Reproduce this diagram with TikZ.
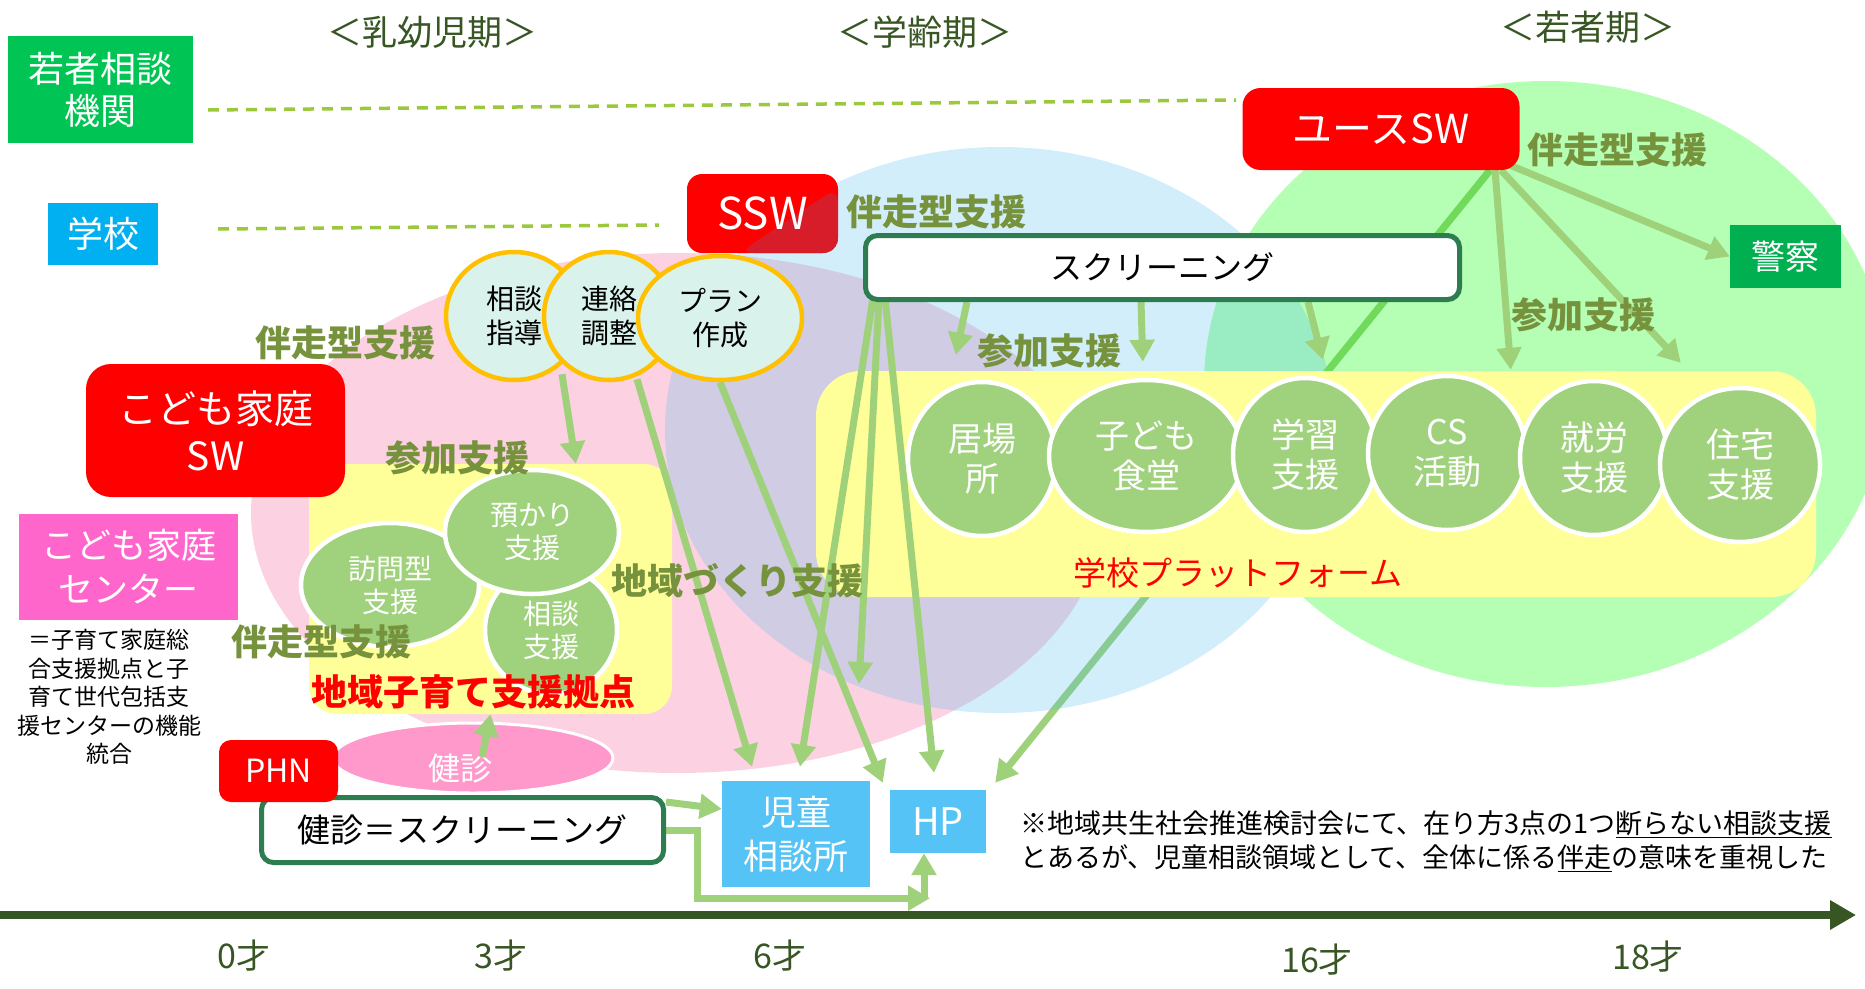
\documentclass[tikz,border=0pt]{standalone}
\usepackage{fontspec}
\setmainfont{Noto Sans CJK JP}
\usetikzlibrary{arrows.meta,shapes.geometric,calc}
\pgfdeclarelayer{back}
\pgfdeclarelayer{mid}
\pgfdeclarelayer{arr}
\pgfdeclarelayer{front}
\pgfsetlayers{back,mid,arr,main,front}
\newcommand\fs[2]{\fontsize{#1pt}{#2pt}\selectfont}
\definecolor{hdrc}{RGB}{55,86,35}
\definecolor{olivec}{RGB}{118,146,60}
\definecolor{arrc}{RGB}{158,209,121}
\definecolor{brightg}{RGB}{112,218,90}
\definecolor{dashc}{RGB}{155,200,60}
\definecolor{wgreen}{RGB}{0,196,84}
\definecolor{schoolc}{RGB}{0,176,240}
\definecolor{policec}{RGB}{0,176,80}
\definecolor{redc}{RGB}{255,0,0}
\definecolor{redshade}{RGB}{215,28,42}
\definecolor{pinkbg}{RGB}{252,210,226}
\definecolor{bluebg}{RGB}{75,187,235}
\definecolor{greenbg}{RGB}{181,255,181}
\definecolor{yel}{RGB}{255,255,153}
\definecolor{cgreen}{RGB}{160,210,125}
\definecolor{tealc}{RGB}{218,242,236}
\definecolor{orng}{RGB}{255,192,0}
\definecolor{kcenter}{RGB}{255,102,204}
\definecolor{kenshinc}{RGB}{255,153,204}
\definecolor{scrb}{RGB}{46,125,80}
\definecolor{jidoc}{RGB}{85,195,245}
\begin{document}
\begin{tikzpicture}[x=1pt,y=-1pt,
  lbl/.style={text=olivec, font=\bfseries\fs{36}{40}, inner sep=0pt},
  hdr/.style={text=hdrc, font=\fs{35}{40}, inner sep=0pt},
  age/.style={text=hdrc, font=\fs{34}{40}, inner sep=0pt},
  arrowst/.style={draw=arrc, line width=7pt, -{Triangle[length=22pt,width=24pt]}},
  gcirc/.style={ellipse, fill=cgreen, draw=white, line width=4.5pt, text=white, align=center, inner sep=0pt, font=\fs{28}{33}},
  pcirc/.style={gcirc, font=\fs{34}{40}},
  ocirc/.style={ellipse, fill=tealc, draw=orng, line width=4.5pt, text=black, align=center, inner sep=0pt, font=\fs{28}{34}},
  redbox/.style={rectangle, fill=redc, text=white, align=center, inner sep=0pt},
  flatbox/.style={rectangle, text=white, align=center, inner sep=0pt},
  blkbox/.style={rectangle, draw=scrb, line width=5pt, fill=white, rounded corners=12pt, inner sep=0pt},
  dashln/.style={draw=dashc, line width=3.5pt, dash pattern=on 11pt off 8pt},
]
\useasboundingbox (0,0) rectangle (1865,988);

% yellow areas
\begin{pgfonlayer}{mid}
\node[fill=yel, rounded corners=28pt, minimum width=363pt, minimum height=250pt, inner sep=0pt] (kyoten) at (490.5,589) {};
\node[fill=yel, rounded corners=45pt, minimum width=1000pt, minimum height=226pt, inner sep=0pt] (platform) at (1316,484) {};
\end{pgfonlayer}

% headers
\node[hdr] (h1) at (432,32) {＜乳幼児期＞};
\node[hdr] (h2) at (925,32) {＜学齢期＞};
\node[hdr] (h3) at (1588,27) {＜若者期＞};

% left boxes
\node[flatbox, fill=wgreen, minimum width=185pt, minimum height=107pt, font=\fs{36}{42}] (wakamono) at (100.5,89.5) {若者相談\\機関};
\node[flatbox, fill=schoolc, minimum width=110pt, minimum height=62pt, font=\fs{36}{40}] (gakko) at (103,234) {学校};
\node[redbox, rounded corners=25pt, minimum width=259pt, minimum height=133pt, font=\fs{39}{47}] (kksw) at (215.5,430.5) {こども家庭\\SW};
\node[flatbox, fill=kcenter, minimum width=219pt, minimum height=106pt, font=\fs{35}{44}] (kcent) at (128.5,567) {こども家庭\\センター};
\node[align=center, font=\fs{23}{28.5}, inner sep=0pt] (note1) at (109,697) {＝子育て家庭総\\合支援拠点と子\\育て世代包括支\\援センターの機能\\統合};

% dashed lines
\coordinate (wl0) at (208,110);
\coordinate (wl1) at (1236,100);
\coordinate (gl0) at (218,229);
\coordinate (gl1) at (659,225);
\draw[dashln] (wl0) -- (wl1);
\draw[dashln] (gl0) -- (gl1);

% SW boxes
\node[redbox, rounded corners=15pt, minimum width=151pt, minimum height=79pt, font=\fs{44}{50},
  path picture={\fill[redshade] ([xshift=-24pt]path picture bounding box.south) -- ([yshift=-13pt]path picture bounding box.north east) -- (path picture bounding box.south east) -- cycle;}] (ssw) at (762.5,213.5) {SSW};
\node[redbox, rounded corners=18pt, minimum width=277pt, minimum height=82pt, font=\fs{40}{46}] (yusw) at (1381,129) {ユースSW};
\node[flatbox, fill=policec, minimum width=111pt, minimum height=63pt, font=\fs{34}{40}] (police) at (1785.5,256.5) {警察};
\node[blkbox, minimum width=594pt, minimum height=64pt, font=\fs{32}{38}] (scr) at (1162.5,267.5) {スクリーニング};

% orange circles
\node[ocirc, minimum width=136pt, minimum height=128pt] (soudan) at (514,316) {相談\\指導};
\node[ocirc, minimum width=130pt, minimum height=128pt] (renraku) at (609,316) {連絡\\調整};
\node[ocirc, minimum width=164pt, minimum height=124pt] (plan) at (720,318) {プラン\\作成};

% green circles (kyoten)
\node[gcirc, minimum width=178pt, minimum height=124pt] (houmon) at (390,585) {訪問型\\支援};
\node[gcirc, minimum width=132pt, minimum height=128pt] (sodansien) at (551,630) {相談\\支援};
\node[gcirc, minimum width=174pt, minimum height=124pt] (azukari) at (532,532) {預かり\\支援};

% platform circles
\node[pcirc, minimum width=148pt, minimum height=154pt] (ibasho) at (982,459) {居場\\所};
\node[pcirc, minimum width=194pt, minimum height=152pt] (shokudo) at (1146,456) {子ども\\食堂};
\node[pcirc, minimum width=144pt, minimum height=154pt] (gakushu) at (1305,455) {学習\\支援};
\node[pcirc, minimum width=158pt, minimum height=154pt] (cs) at (1447,453) {CS\\活動};
\node[pcirc, minimum width=148pt, minimum height=154pt] (shuro) at (1594,458) {就労\\支援};
\node[pcirc, minimum width=160pt, minimum height=154pt] (jutaku) at (1740,465) {住宅\\支援};

% kenshin
\node[ellipse, fill=kenshinc, draw=white, line width=3pt, minimum width=280pt, minimum height=70pt, inner sep=0pt] (kenshin) at (473,758) {};
\node[text=white, font=\fs{32}{36}, inner sep=0pt] (kenshinT) at (460,768) {健診};
\node[blkbox, minimum width=402pt, minimum height=65pt, font=\fs{33}{38}] (kscr) at (462.5,830) {健診＝スクリーニング};
\node[redbox, rounded corners=12pt, minimum width=119pt, minimum height=62pt, font=\fs{32}{36}] (phn) at (278.5,771) {PHN};

% destination boxes
\node[flatbox, fill=jidoc, minimum width=148pt, minimum height=106pt, font=\fs{35}{44}] (jido) at (796,834) {児童\\相談所};
\node[flatbox, fill=jidoc, minimum width=96pt, minimum height=63pt, font=\fs{38}{42}] (hp) at (938,821.5) {HP};

% labels
\node[lbl] (L1) at (345,343) {伴走型支援};
\node[lbl] (L2) at (457,458) {参加支援};
\node[lbl] (L3) at (321,642) {伴走型支援};
\node[lbl] (L4) at (737,581) {地域づくり支援};
\node[lbl] (L5) at (936,212) {伴走型支援};
\node[lbl] (L6) at (1049,351) {参加支援};
\node[lbl] (L7) at (1617,150) {伴走型支援};
\node[lbl] (L8) at (1583,315) {参加支援};
\node[text=redc, font=\bfseries\fs{36}{40}, inner sep=0pt] (kyotenL) at (473,692) {地域子育て支援拠点};
\node[text=redc, font=\fs{33}{38}, inner sep=0pt] (pfL) at (1238,573) {学校プラットフォーム};

% note
\node[anchor=west, align=left, font=\fs{27}{34}, inner sep=0pt] (note2) at (1020,841) {※地域共生社会推進検討会にて、在り方3点の1つ\underline{断らない相談支援}\\とあるが、児童相談領域として、全体に係る\underline{伴走}の意味を重視した};

% axis
\coordinate (ax0) at (0,915);
\coordinate (ax1) at (1856,915);
\draw[draw=hdrc, line width=8pt, -{Triangle[length=26pt,width=28pt]}] (ax0) -- (ax1);
\node[age] (a0) at (244,956) {0才};
\node[age] (a3) at (501,956) {3才};
\node[age] (a6) at (780,956) {6才};
\node[age] (a16) at (1317,960) {16才};
\node[age] (a18) at (1648,957) {18才};

% backgrounds
\begin{pgfonlayer}{back}
\fill[greenbg] (1546,384) ellipse [x radius=342, y radius=303];
\fill[pinkbg] (677,513) ellipse [x radius=426, y radius=260];
\draw[arrowst] ($(yusw.south)+(109,0)$) -- ($(hp.north east)+(9,-7)$);
\fill[bluebg, fill opacity=0.25] (1000,430) ellipse [x radius=335, y radius=283];
\begin{scope}
\clip (1546,384) ellipse [x radius=342, y radius=303];
\draw[draw=brightg, line width=7pt] ($(yusw.south)+(109,0)$) -- ($(hp.north east)+(9,-7)$);
\end{scope}
\end{pgfonlayer}

% arrows
\coordinate (midtip) at (859,684);
\coordinate (jn) at ($(hp.south)+(-14,45)$);
\begin{pgfonlayer}{arr}
\draw[arrowst] ($(soudan.south)+(48,-8)$) -- ($(kyoten.north west)+(267,0)$);
\draw[arrowst] ($(renraku.south)+(28,-3)$) -- ($(jido.north)+(-44,-14)$);
\draw[arrowst] (plan.south) -- ($(hp.north west)+(-7,-7)$);
\draw[arrowst] ($(scr.south west)+(10,-4)$) -- ($(jido.north)+(4,-14)$);
\draw[arrowst] ($(scr.south west)+(16,-4)$) -- (midtip);
\draw[arrowst] ($(scr.south west)+(22,-4)$) -- ($(hp.north)+(-4,-17)$);
\draw[arrowst] ($(scr.south west)+(104,0)$) -- ($(platform.north west)+(140,-16)$);
\draw[arrowst] ($(scr.south west)+(278,0)$) -- ($(platform.north west)+(327,-9)$);
\draw[arrowst] ($(scr.south west)+(445,0)$) -- ($(platform.north west)+(507,-11)$);
\draw[arrowst] ($(yusw.south east)+(-12,-6)$) -- (police.west);
\draw[arrowst] ($(yusw.south)+(114,0)$) -- ($(platform.north west)+(695,-1)$);
\draw[arrowst] ($(yusw.south)+(120,0)$) -- ($(platform.north west)+(865,-8)$);
\draw[arrowst] ($(kscr.north east)+(0,7)$) -- ($(jido.west)+(0,-25)$);
\draw[arrowst] (kscr.east) -- ++(31,0) |- ($(jn)+(6,0)$);
\draw[arrowst] (jn) -- (hp.south -| jn);
\end{pgfonlayer}
\begin{pgfonlayer}{front}
\draw[arrowst] ($(kenshin.center)+(9,-1)$) -- (kyoten.south);
\end{pgfonlayer}
\end{tikzpicture}
\end{document}
